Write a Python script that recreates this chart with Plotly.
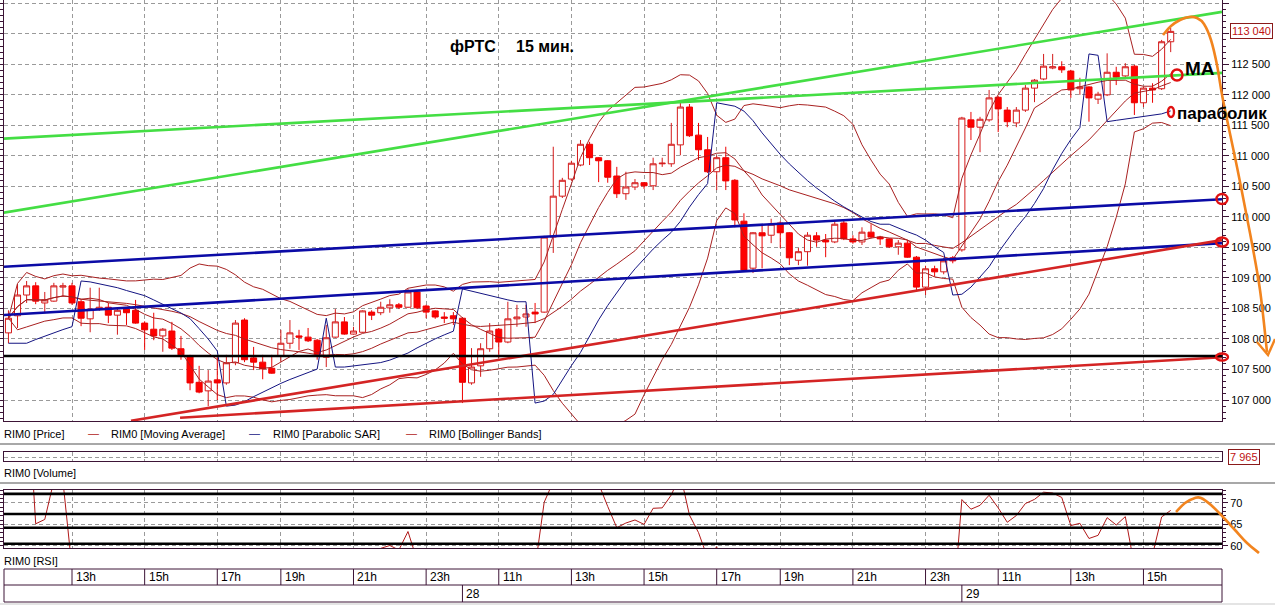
import numpy as np
import pandas as pd
import plotly.graph_objects as go

# ------------------------------------------------------------------ data
bar_index = list(range(129))
open_p = [108100,108380,108720,108870,108590,108620,108850,108870,108610,108330,
          108490,108520,108390,108490,108470,108260,108160,108050,108130,107840,
          107720,107290,107150,107330,107280,107610,108310,107690,107620,107520,
          107720,107930,108050,108030,107980,107700,108030,108280,108080,108110,
          108440,108430,108510,108560,108520,108770,108540,108460,108360,108380,
          108340,107280,107560,107840,108160,107950,108330,108360,108440,108440,
          109670,110340,110620,110850,111190,110970,110920,110670,110380,110490,
          110560,110510,110870,110870,111180,111800,111340,111100,110740,110970,
          110600,109930,109160,109740,109700,109900,109740,109290,109430,109690,
          109620,109590,109900,109640,109590,109750,109670,109640,109510,109570,
          109340,108850,109150,109100,109330,109460,111590,111470,111590,111960,
          111750,111540,111750,112110,112260,112440,112460,112390,112100,112130,
          111930,112000,112370,112310,112470,111870,112110,112100,112870]
high_p = [108470,108900,108950,108930,108770,108920,108920,108920,108640,108840,
          108840,108590,108510,108520,108640,108290,108430,108180,108280,108050,
          107740,107560,107490,107700,107740,108310,108340,107870,107740,107740,
          108150,108310,108150,108180,108000,108230,108490,108360,108200,108470,
          108470,108610,108650,108590,108820,108790,108560,108470,108440,108440,
          108360,107850,107930,108260,108180,108610,108560,108560,108590,109690,
          111150,110640,110920,111260,111230,110980,110930,110820,110740,110620,
          110570,110970,110970,111540,111870,111850,111540,111310,111010,111150,
          110620,110060,109750,109870,109970,109930,109750,109490,109750,109750,
          109720,109950,109950,109700,109830,109880,109690,109650,109620,109620,
          109360,109200,109200,109330,109360,111640,111720,111640,112080,111980,
          111800,111800,112160,112260,112670,112670,112550,112410,112280,112140,
          112050,112680,112460,112520,112490,112130,112190,112900,113100]
low_p = [107930,108180,108590,108570,108430,108610,108690,108560,108210,108110,
         108460,108260,108070,108230,108250,107820,107980,107790,107820,107660,
         107160,107110,106900,107000,107250,107570,107620,107490,107340,107430,
         107620,107840,107820,107950,107660,107540,108020,108070,108070,108100,
         108310,108390,108430,108490,108510,108490,108340,108330,108260,108230,
         106950,107250,107380,107790,107690,107930,108200,108200,108260,108430,
         109410,110310,110590,110830,110850,110570,110560,110310,110280,110440,
         110460,110440,110820,110820,111010,111310,110930,110720,110440,110440,
         109830,109110,109080,109160,109570,109490,109210,109210,109200,109510,
         109340,109570,109620,109560,109540,109650,109540,109490,109380,109330,
         108800,108720,109020,109060,109240,109430,111260,111060,111560,111390,
         111470,111470,111720,111880,112240,112420,112360,111950,112000,111560,
         111850,111980,112160,112280,111670,111800,111870,112080,112700]
close_p = [108340,108720,108870,108620,108640,108870,108870,108590,108340,108490,
           108520,108390,108470,108430,108260,108150,108050,108160,107850,107740,
           107280,107130,107310,107280,107610,108260,107660,107620,107510,107440,
           107930,108100,108030,107970,107750,108020,108280,108080,108130,108460,
           108390,108520,108560,108520,108770,108510,108440,108360,108340,108330,
           107290,107540,107840,108130,107950,108330,108360,108410,108410,109670,
           110340,110600,110880,111190,110970,110920,110650,110380,110490,110560,
           110510,110870,110880,111190,111800,111330,111100,110740,110970,110590,
           109950,109130,109740,109690,109880,109740,109330,109430,109700,109620,
           109590,109880,109640,109590,109750,109670,109640,109510,109570,109340,
           108850,109150,109100,109280,109280,111620,111470,111600,111950,111770,
           111560,111750,112110,112240,112470,112460,112410,112080,112130,111950,
           112010,112370,112290,112460,111870,112110,112080,112870,113040]

time_tick_bars = [7, 15, 23, 30, 38, 46, 54, 62, 70, 78, 85, 93, 101, 109, 117, 125]
time_tick_labels = ["13h", "15h", "17h", "19h", "21h", "23h", "11h", "13h",
                    "15h", "17h", "19h", "21h", "23h", "11h", "13h", "15h"]
date_bars = [50, 105]
date_labels = ["28", "29"]

price_ticks = [107000, 107500, 108000, 108500, 109000, 109500, 110000,
               110500, 111000, 111500, 112000, 112500, 113000, 113500]
price_tick_labels = ["107 000", "107 500", "108 000", "108 500", "109 000", "109 500", "110 000",
                     "110 500", "111 000", "111 500", "112 000", "112 500", "113 000", "113 500"]
last_price_label = "113 040"
last_volume_label = "7 965"

rsi_ticks = [60, 65, 70]
rsi_levels = [60.5, 64.2, 67.4, 72.1]
support_level = 107720

# user-drawn trend lines: start bar, start price, end bar, end price
green_lines = [(-0.93, 110060, 133.65, 113360), (-0.93, 111280, 133.65, 112360)]
blue_lines = [(-0.93, 109180, 133.65, 110290), (-0.93, 108390, 133.65, 109570)]
red_lines = [(13.5, 106660, 133.65, 109620), (18.9, 106710, 133.65, 107700)]

ma_period = 9
bb_period = 20
rsi_period = 14

# ------------------------------------------------------------------ indicators
c = pd.Series(close_p, dtype=float)
ma = c.rolling(ma_period, min_periods=1).mean()
bb_mid = c.rolling(bb_period, min_periods=1).mean()
bb_std = c.rolling(bb_period, min_periods=1).std(ddof=0)
bb_up = bb_mid + 2 * bb_std
bb_lo = bb_mid - 2 * bb_std


def psar(high, low, step=0.02, maxstep=0.2):
    n = len(high)
    sar = [float(low[0])] * n
    bull = True
    af = step
    ep = high[0]
    for i in range(1, n):
        prev = sar[i - 1]
        s = prev + af * (ep - prev)
        if bull:
            s = min(s, low[i - 1], low[i - 2] if i >= 2 else low[i - 1])
            if low[i] < s:
                bull = False
                s = ep
                ep = low[i]
                af = step
            elif high[i] > ep:
                ep = high[i]
                af = min(af + step, maxstep)
        else:
            s = max(s, high[i - 1], high[i - 2] if i >= 2 else high[i - 1])
            if high[i] > s:
                bull = True
                s = ep
                ep = high[i]
                af = step
            elif low[i] < ep:
                ep = low[i]
                af = min(af + step, maxstep)
        sar[i] = s
    return sar


sar = psar(high_p, low_p)

d = c.diff()
gain = d.clip(lower=0)
loss = -d.clip(upper=0)
ag = gain.ewm(alpha=1 / rsi_period, adjust=True).mean()
al = loss.ewm(alpha=1 / rsi_period, adjust=True).mean()
rsi = 100 - 100 / (1 + ag / al)

# ------------------------------------------------------------------ geometry helpers
W, H = 1275, 605


def px(x):
    return x / W


def py(y):
    return 1 - y / H


x_range = [-0.49, 133.65]
FRAME = '#3c1436'
GRID = '#9a9a9a'
IND = '#a82020'
FONT = 'Liberation Sans, Arial, sans-serif'

fig = go.Figure()

fig.add_trace(go.Candlestick(
    x=bar_index, open=open_p, high=high_p, low=low_p, close=close_p,
    increasing=dict(line=dict(color='#d41a1a', width=1), fillcolor='#ffffff'),
    decreasing=dict(line=dict(color='#ee0000', width=1), fillcolor='#ff0000'),
    whiskerwidth=0, xaxis='x', yaxis='y', showlegend=False, hoverinfo='skip'))

for series in (bb_up, bb_lo, bb_mid, ma):
    fig.add_trace(go.Scatter(x=bar_index, y=series, mode='lines',
                             line=dict(color=IND, width=1), xaxis='x', yaxis='y', hoverinfo='skip'))
fig.add_trace(go.Scatter(x=bar_index, y=sar, mode='lines',
                         line=dict(color='#141482', width=1), xaxis='x', yaxis='y', hoverinfo='skip'))

for lines, col in ((green_lines, '#44de44'), (blue_lines, '#0b0ba6'), (red_lines, '#d42424')):
    for (b0, p0, b1, p1) in lines:
        fig.add_trace(go.Scatter(x=[b0, b1], y=[p0, p1], mode='lines',
                                 line=dict(color=col, width=2.6), xaxis='x', yaxis='y', hoverinfo='skip'))

# empty volume pane (keeps its frame drawn)
fig.add_trace(go.Scatter(x=[None], y=[None], mode='lines', xaxis='x2', yaxis='y2', hoverinfo='skip'))

fig.add_trace(go.Scatter(x=bar_index, y=rsi, mode='lines', line=dict(color='#b01818', width=1),
                         xaxis='x3', yaxis='y3', hoverinfo='skip'))

xcommon = dict(range=x_range, tickvals=time_tick_bars, showticklabels=False, ticks='',
               showgrid=True, gridcolor=GRID, griddash='4px,3px', gridwidth=1, zeroline=False,
               showline=True, linecolor=FRAME, linewidth=1, mirror=True, automargin=False,
               domain=[px(4), px(1222)], fixedrange=True)

fig.update_layout(
    width=W, height=H, margin=dict(l=0, r=0, t=0, b=0, autoexpand=False),
    paper_bgcolor='white', plot_bgcolor='white', showlegend=False,
    font=dict(family=FONT, size=11, color='black'),
    boxgap=0.05, boxgroupgap=0.3,
    xaxis=dict(**xcommon, anchor='y', rangeslider=dict(visible=False)),
    yaxis=dict(domain=[py(421), 1.0], range=[106656, 113554], side='right', anchor='x',
               tickvals=price_ticks, ticktext=price_tick_labels, ticks='outside', ticklen=6,
               tickcolor=FRAME, tickfont=dict(size=11, color='black'), automargin=False,
               minor=dict(tickmode='linear', tick0=107000, dtick=100, ticklen=3, ticks='outside',
                          tickcolor=FRAME, showgrid=False),
               showgrid=True, gridcolor=GRID, griddash='4px,3px', zeroline=False,
               showline=True, linecolor=FRAME, mirror='ticks', fixedrange=True),
    xaxis2=dict(**xcommon, anchor='y2', matches='x'),
    yaxis2=dict(domain=[py(461), py(452)], range=[0, 1], side='right', anchor='x2', automargin=False,
                tickvals=[0.35], showticklabels=False, ticks='', showgrid=True, gridcolor=GRID,
                griddash='4px,3px', zeroline=False, showline=True, linecolor=FRAME, mirror=True,
                fixedrange=True),
    xaxis3=dict(**xcommon, anchor='y3', matches='x'),
    yaxis3=dict(domain=[py(548), py(490)], range=[59.5, 73.0], side='right', anchor='x3',
                tickvals=rsi_ticks, ticks='outside', ticklen=5, tickcolor=FRAME, automargin=False,
                tickfont=dict(size=11, color='black'),
                minor=dict(tickmode='linear', tick0=60, dtick=1, ticklen=3, ticks='outside',
                           tickcolor=FRAME, showgrid=False),
                showgrid=True, gridcolor=GRID, griddash='4px,3px', zeroline=False,
                showline=True, linecolor=FRAME, mirror='ticks', fixedrange=True),
)

shapes = []
# horizontal support line and RSI levels
shapes.append(dict(type='line', xref='x domain', x0=0, x1=1, yref='y', y0=support_level, y1=support_level,
                   line=dict(color='black', width=2.6), layer='above'))
for lv in rsi_levels:
    shapes.append(dict(type='line', xref='x3 domain', x0=0, x1=1, yref='y3', y0=lv, y1=lv,
                       line=dict(color='black', width=2.6), layer='above'))

# panel separators
for yy in (444, 483):
    shapes.append(dict(type='line', xref='paper', yref='paper', x0=0, x1=1, y0=py(yy), y1=py(yy),
                       line=dict(color='#a8a8a8', width=2)))
shapes.append(dict(type='rect', xref='paper', yref='paper', x0=0, x1=1, y0=0, y1=py(603),
                   line=dict(width=0), fillcolor='#e4e4e4'))

# time axis table
shapes.append(dict(type='rect', xref='paper', yref='paper', x0=px(4), x1=px(1222), y0=py(602), y1=py(569),
                   line=dict(color=FRAME, width=1), fillcolor='white'))
shapes.append(dict(type='line', xref='paper', yref='paper', x0=px(4), x1=px(1222), y0=py(585), y1=py(585),
                   line=dict(color=FRAME, width=1)))
for b in time_tick_bars:
    shapes.append(dict(type='line', xref='x', yref='paper', x0=b, x1=b, y0=py(585), y1=py(569),
                       line=dict(color=FRAME, width=1)))
for b in date_bars:
    shapes.append(dict(type='line', xref='x', yref='paper', x0=b, x1=b, y0=py(602), y1=py(585),
                       line=dict(color=FRAME, width=1)))


def smooth_path(pts):
    P = [(px(x), py(y)) for x, y in pts]
    s = f"M {P[0][0]:.5f},{P[0][1]:.5f}"
    for i in range(len(P) - 1):
        p0 = P[i - 1] if i > 0 else P[i]
        p1, p2 = P[i], P[i + 1]
        p3 = P[i + 2] if i + 2 < len(P) else P[i + 1]
        c1 = (p1[0] + (p2[0] - p0[0]) / 6, p1[1] + (p2[1] - p0[1]) / 6)
        c2 = (p2[0] - (p3[0] - p1[0]) / 6, p2[1] - (p3[1] - p1[1]) / 6)
        s += f" C {c1[0]:.5f},{c1[1]:.5f} {c2[0]:.5f},{c2[1]:.5f} {p2[0]:.5f},{p2[1]:.5f}"
    return s


ORANGE = '#f2841e'
forecast_price = [(1163, 35), (1171, 26), (1180, 20), (1189, 17), (1197, 18), (1204, 24), (1211, 40),
                  (1217, 65), (1223, 100), (1237, 167), (1250, 233), (1260, 290), (1267, 352)]
forecast_rsi = [(1176, 512), (1185, 503), (1195, 498), (1201, 498), (1211, 505), (1223, 517),
                (1235, 530), (1247, 543), (1259, 553)]
shapes.append(dict(type='path', xref='paper', yref='paper', path=smooth_path(forecast_price),
                   line=dict(color=ORANGE, width=2.6)))
shapes.append(dict(type='path', xref='paper', yref='paper', path=smooth_path(forecast_rsi),
                   line=dict(color=ORANGE, width=2.6)))
arrow = f"M {px(1257)},{py(342)} L {px(1268)},{py(355)} L {px(1275)},{py(339)}"
shapes.append(dict(type='path', xref='paper', yref='paper', path=arrow, line=dict(color=ORANGE, width=2.4)))

# red marker circles
for (cx, cy, rx, ry) in [(1177, 75, 5.5, 5.5), (1171, 112, 3, 5), (1222, 199, 5.5, 5),
                         (1222, 242, 6, 4.5), (1222, 357, 6, 3.5)]:
    shapes.append(dict(type='circle', xref='paper', yref='paper', x0=px(cx - rx), x1=px(cx + rx),
                       y0=py(cy + ry), y1=py(cy - ry), line=dict(color='#e01010', width=2.4)))

fig.update_layout(shapes=shapes)

ann = []


def text(x, y, s, size=11, color='black', bold=False, anchor='left', **kw):
    ann.append(dict(xref='paper', yref='paper', x=px(x), y=py(y), text=f"<b>{s}</b>" if bold else s,
                    showarrow=False, xanchor=anchor, yanchor='middle',
                    font=dict(family=FONT, size=size, color=color), **kw))


text(2, 434, "RIM0 [Price]")
text(86, 433, "—", color='#b01818')
text(109, 434, "RIM0 [Moving Average]")
text(247, 433, "—", color='#141482')
text(271, 434, "RIM0 [Parabolic SAR]")
text(404, 433, "—", color='#b01818')
text(427, 434, "RIM0 [Bollinger Bands]")
text(2, 473, "RIM0 [Volume]")
text(2, 561, "RIM0 [RSI]")

text(448, 47, "фРТС", size=16, bold=True)
text(514, 47, "15 мин.", size=16, bold=True)
text(1183, 68, "MA", size=19, bold=True)
text(1175, 113, "параболик", size=17, bold=True)

ann.append(dict(xref='paper', yref='paper', x=px(1230), y=py(31), text=last_price_label, showarrow=False,
                xanchor='left', yanchor='middle', font=dict(family=FONT, size=11, color='#c01010'),
                bgcolor='white', bordercolor='#8a1a1a', borderwidth=1, borderpad=1))
ann.append(dict(xref='paper', yref='paper', x=px(1228), y=py(457), text=last_volume_label, showarrow=False,
                xanchor='left', yanchor='middle', font=dict(family=FONT, size=11, color='#c01010'),
                bgcolor='white', bordercolor='#8a1a1a', borderwidth=1, borderpad=1))

for b, lab in zip(time_tick_bars, time_tick_labels):
    ann.append(dict(xref='x', yref='paper', x=b, y=py(577), text=lab, showarrow=False, xanchor='left',
                    xshift=2, yanchor='middle', font=dict(family=FONT, size=12, color='black')))
for b, lab in zip(date_bars, date_labels):
    ann.append(dict(xref='x', yref='paper', x=b, y=py(594), text=lab, showarrow=False, xanchor='left',
                    xshift=2, yanchor='middle', font=dict(family=FONT, size=12, color='black')))

fig.update_layout(annotations=ann)

fig.write_html("out.html", config={'displayModeBar': False},
               post_script="document.body.style.margin='0px';document.body.style.overflow='hidden';")
